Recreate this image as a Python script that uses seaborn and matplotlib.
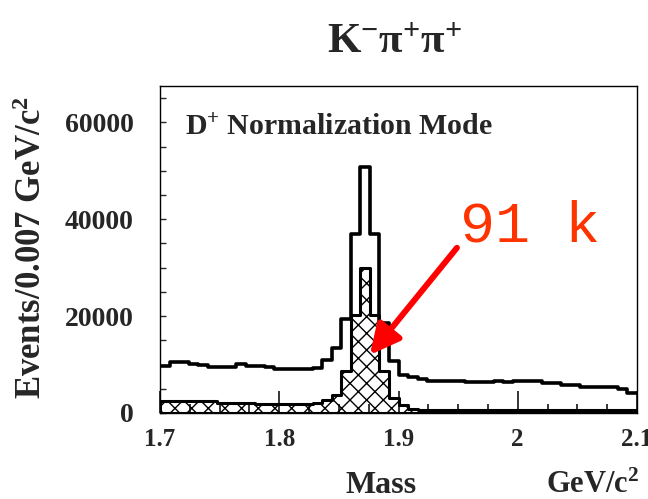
import numpy as np
import matplotlib
matplotlib.use("Agg")
import matplotlib.pyplot as plt
import seaborn as sns

# --- data: D+ -> K- pi+ pi+ mass spectrum (50 bins from 1.7 to 2.1) ---
mass_range = (1.7, 2.1)
n_bins = 50
bin_centers = np.linspace(1.704, 2.096, n_bins)

all_counts = [9700, 10600, 10600, 10100, 10000, 9500, 9450, 9450, 10100, 9700,
              9700, 9450, 9000, 9000, 9000, 9000, 9300, 11000, 13500, 19500,
              37000, 50800, 37000, 18500, 10800, 7800, 7400, 7000, 6700, 6700,
              6700, 6700, 6500, 6500, 6300, 6600, 6500, 6700, 6700, 6700,
              6100, 6100, 5800, 5800, 5400, 5400, 5400, 5400, 5000, 4200]

signal_counts = [2400, 2400, 2400, 2400, 2400, 2400, 2100, 2100, 2100, 2100,
                 1900, 1900, 1900, 1900, 1900, 1900, 2100, 2600, 3700, 8700,
                 20300, 29900, 20300, 8700, 3100, 1700, 900, 600, 600, 600,
                 600, 600, 600, 600, 600, 600, 600, 600, 600, 600,
                 600, 600, 600, 600, 600, 600, 600, 600, 600, 600]

x_ticks = [1.7, 1.8, 1.9, 2.0, 2.1]
x_tick_labels = ["1.7", "1.8", "1.9", "2", "2.1"]
y_ticks = [0, 20000, 40000, 60000]

sns.set_style("ticks")
plt.rcParams["font.family"] = ["Liberation Serif", "DejaVu Serif"]
plt.rcParams["font.weight"] = "bold"
plt.rcParams["mathtext.fontset"] = "custom"
plt.rcParams["mathtext.rm"] = "Liberation Serif:bold"
plt.rcParams["mathtext.bf"] = "Liberation Serif:bold"
plt.rcParams["mathtext.it"] = "Liberation Serif:italic"
plt.rcParams["hatch.color"] = "black"
plt.rcParams["hatch.linewidth"] = 1.0

fig = plt.figure(figsize=(6.48, 4.99), dpi=100)
ax = fig.add_axes([160 / 648, 1 - 413 / 499, 477 / 648, 327 / 499])

# hatched signal histogram
sns.histplot(x=bin_centers, weights=signal_counts, bins=n_bins, binrange=mass_range,
             element="step", fill=True, color="black", facecolor="none",
             edgecolor="black", hatch="xx", linewidth=2.2, alpha=1, ax=ax)
# total histogram
sns.histplot(x=bin_centers, weights=all_counts, bins=n_bins, binrange=mass_range,
             element="step", fill=False, color="black", linewidth=2.6, ax=ax)

ax.set_xlim(*mass_range)
ax.set_ylim(0, 67500)
ax.set_xlabel("")
ax.set_ylabel("")

ax.set_xticks(x_ticks)
ax.set_xticklabels(x_tick_labels)
ax.set_xticks(np.arange(1.7, 2.1001, 0.025), minor=True)
ax.set_yticks(y_ticks)
ax.set_yticks(np.arange(0, 67500, 5000), minor=True)
ax.tick_params(axis="x", which="major", direction="in", length=16, width=1.3,
               pad=11, labelsize=18)
ax.tick_params(axis="x", which="minor", direction="in", length=6.5, width=1.3)
ax.tick_params(axis="y", which="both", direction="in", length=4, width=1)
ax.tick_params(axis="y", which="major", pad=19, labelsize=20)
for lab in ax.get_xticklabels() + ax.get_yticklabels():
    lab.set_fontweight("bold")
for sp in ax.spines.values():
    sp.set_linewidth(1.0)
    sp.set_color("black")

# texts
ax.text(0.052, 0.85, r"D$^{+}$ Normalization Mode", transform=ax.transAxes,
        fontsize=21.5, fontweight="bold", va="baseline", ha="left")
ax.text(0.629, 0.523, "91 k", transform=ax.transAxes, fontsize=42,
        family="Liberation Mono", fontweight="normal", color="#ff3300",
        va="baseline", ha="left")
ax.annotate("", xy=(1.876, 12000), xytext=(1.949, 34100),
            arrowprops=dict(arrowstyle="-|>", color="red", lw=4.3,
                            mutation_scale=45, shrinkA=0, shrinkB=0))

fig.text(395 / 648, 1 - 53 / 499, r"$\mathrm{K^{-}\pi^{+}\pi^{+}}$", fontsize=31,
         ha="center", va="baseline")
fig.text(33 / 648, 0.504, r"Events/0.007 GeV/c$^{2}$", rotation=90, fontsize=25,
         fontweight="bold", ha="center", va="center")
fig.text(381 / 648, 1 - 493 / 499, "Mass", fontsize=23, fontweight="bold",
         ha="center", va="baseline")
fig.text(546 / 648, 1 - 493 / 499, r"GeV/c$^{2}$", fontsize=22, fontweight="bold",
         ha="left", va="baseline")

fig.savefig("out.png", dpi=100)
